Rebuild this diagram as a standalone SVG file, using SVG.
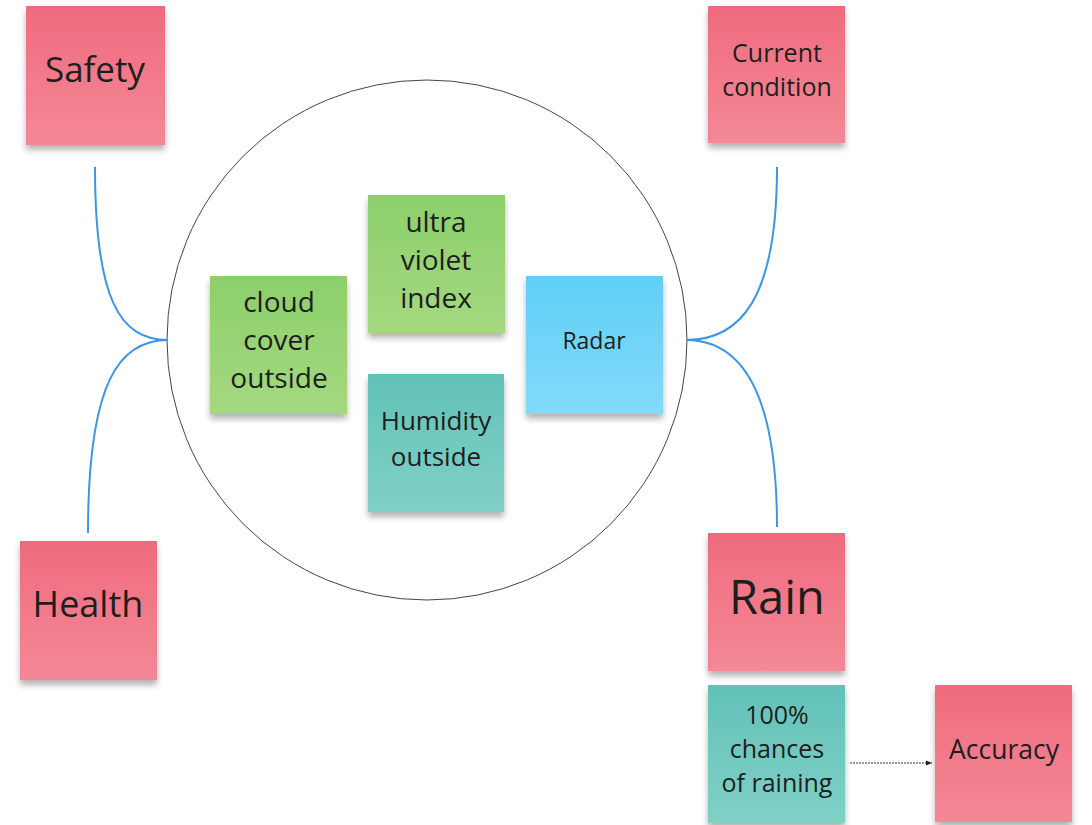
<svg xmlns="http://www.w3.org/2000/svg" width="1092" height="825" viewBox="0 0 1092 825">
<defs>
<linearGradient id="gPink" x1="0" y1="0" x2="0" y2="1"><stop offset="0" stop-color="#ef6b7e"/><stop offset="1" stop-color="#f48896"/></linearGradient>
<linearGradient id="gGreen" x1="0" y1="0" x2="0" y2="1"><stop offset="0" stop-color="#8ccf6b"/><stop offset="1" stop-color="#a4d97f"/></linearGradient>
<linearGradient id="gTeal" x1="0" y1="0" x2="0" y2="1"><stop offset="0" stop-color="#62c2b8"/><stop offset="1" stop-color="#80d0c6"/></linearGradient>
<linearGradient id="gBlue" x1="0" y1="0" x2="0" y2="1"><stop offset="0" stop-color="#60cff7"/><stop offset="1" stop-color="#82dbfa"/></linearGradient>
<filter id="sh" x="-10%" y="-10%" width="120%" height="130%"><feGaussianBlur in="SourceAlpha" stdDeviation="3"/><feOffset dx="0" dy="5"/><feComponentTransfer><feFuncA type="linear" slope="0.3"/></feComponentTransfer><feMerge><feMergeNode/><feMergeNode in="SourceGraphic"/></feMerge></filter>
<marker id="arr" viewBox="0 0 10 10" refX="10" refY="5" markerWidth="6" markerHeight="6" orient="auto"><path d="M0,1 L10,5 L0,9 z" fill="#222"/></marker>
</defs>
<style>
text{font-family:"Open Sans","Noto Sans","Liberation Sans",sans-serif;fill:#1e1e1e;text-anchor:middle}
.note{filter:url(#sh)}
.con{fill:none;stroke:#3e96e2;stroke-width:2}
</style>
<rect width="1092" height="825" fill="#ffffff"/>
<circle cx="427" cy="340" r="260" fill="none" stroke="#444" stroke-width="1"/>
<g id="connectors">
<path class="con" d="M95,167 C95,300 120,340 168,340"/>
<path class="con" d="M88,533 C88,380 120,340 168,340"/>
<path class="con" d="M777,167 C777,300 740,340 686,340"/>
<path class="con" d="M777,527 C777,390 740,340 686,340"/>
<path d="M850,763 L932,763" fill="none" stroke="#333" stroke-width="1" stroke-dasharray="2,1" marker-end="url(#arr)"/>
</g>
<g id="safety"><rect class="note" x="26" y="6" width="139" height="139" fill="url(#gPink)"/><text x="95" y="82" font-size="35">Safety</text></g>
<g id="current-condition"><rect class="note" x="708" y="6" width="137" height="137" fill="url(#gPink)"/><text x="777" y="62" font-size="25">Current</text><text x="777" y="96" font-size="25">condition</text></g>
<g id="health"><rect class="note" x="20" y="541" width="137" height="139" fill="url(#gPink)"/><text x="88" y="617" font-size="36">Health</text></g>
<g id="rain"><rect class="note" x="708" y="533" width="137" height="138" fill="url(#gPink)"/><text x="777" y="614" font-size="47">Rain</text></g>
<g id="chances"><rect class="note" x="708" y="685" width="137" height="138" fill="url(#gTeal)"/><text x="777" y="724" font-size="25">100%</text><text x="777" y="758" font-size="25">chances</text><text x="777" y="792" font-size="25">of raining</text></g>
<g id="accuracy"><rect class="note" x="935" y="685" width="137" height="137" fill="url(#gPink)"/><text x="1004" y="759" font-size="26.5">Accuracy</text></g>
<g id="cloud-cover"><rect class="note" x="210" y="276" width="137" height="138" fill="url(#gGreen)"/><text x="279" y="312" font-size="28">cloud</text><text x="279" y="350" font-size="28">cover</text><text x="279" y="388" font-size="28">outside</text></g>
<g id="ultra-violet"><rect class="note" x="368" y="195" width="137" height="138" fill="url(#gGreen)"/><text x="436" y="232" font-size="28">ultra</text><text x="436" y="270" font-size="28">violet</text><text x="436" y="308" font-size="28">index</text></g>
<g id="radar"><rect class="note" x="526" y="276" width="137" height="138" fill="url(#gBlue)"/><text x="594" y="349" font-size="23">Radar</text></g>
<g id="humidity"><rect class="note" x="368" y="374" width="136" height="138" fill="url(#gTeal)"/><text x="436" y="430" font-size="26">Humidity</text><text x="436" y="466" font-size="26">outside</text></g>
</svg>
